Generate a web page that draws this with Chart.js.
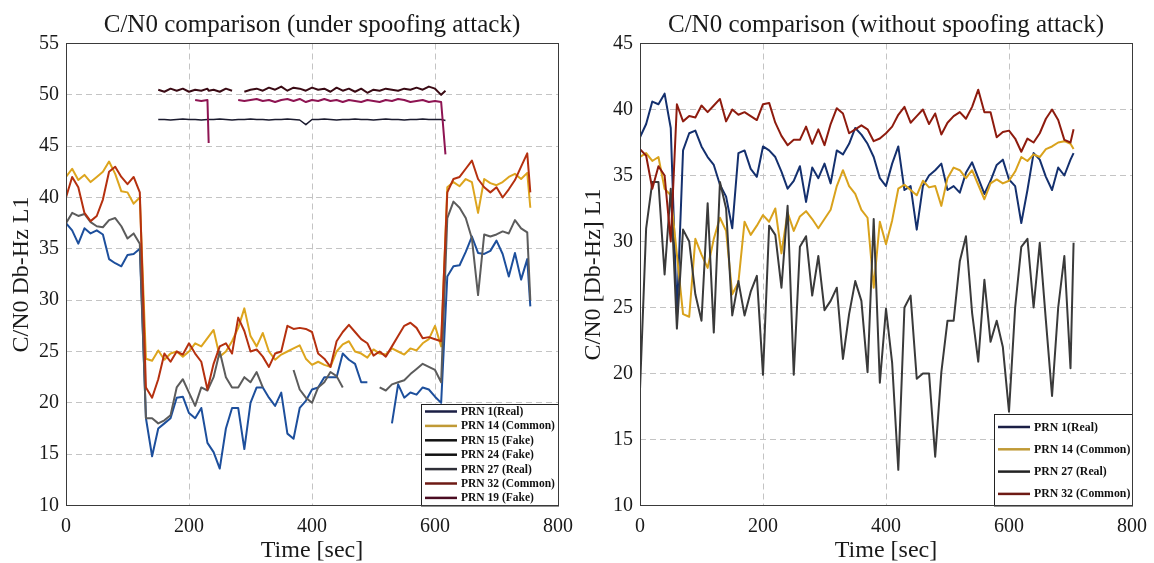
<!DOCTYPE html>
<html>
<head>
<meta charset="utf-8">
<title>C/N0 comparison</title>
<script src="https://cdn.jsdelivr.net/npm/chart.js@4.4.0/dist/chart.umd.min.js"></script>
<style>
    body { margin: 0; background: #fff; }
    .panel { position: absolute; top: 0; width: 577px; height: 563px; }
</style>
</head>
<body>
<div class="panel" style="left:0"><canvas id="spoofChart" width="577" height="563"></canvas></div>
<div class="panel" style="left:577px"><canvas id="cleanChart" width="577" height="563"></canvas></div>
<script>
// ---- under spoofing attack (left) ----
const spoofTime = [0, 10, 20, 30, 40, 50, 60, 70, 80, 90, 100, 110, 120, 130, 140, 150, 160, 170, 180, 190,
    200, 210, 220, 230, 240, 250, 260, 270, 280, 290, 300, 310, 320, 330, 340, 350, 360, 370, 380, 390,
    400, 410, 420, 430, 440, 450, 460, 470, 480, 490, 500, 510, 520, 530, 540, 550, 560, 570, 580, 590,
    600, 610, 620, 630, 640, 650, 660, 670, 680, 690, 700, 710, 720, 730, 740, 750, 755];

const prn1Spoof = [37.5, 36.8, 35.5, 37, 36.5, 36.8, 36.4, 34, 33.6, 33.3, 34.4, 34.5, 35, 18.5, 14.8, 17.5, 18, 18.5, 20.5, 20.6,
    19, 18.5, 19.5, 16.1, 15.2, 13.6, 17.5, 19.5, 19.5, 15.5, 20, 21.5, 21.5, 20.5, 19.7, 21, 17, 16.5, 19.5, 20.2,
    21.3, 21.5, 22.5, 22.5, 22.5, 24.8, 24.2, 23.8, 22, 22, null, null, null, 18, 21.8, 20.5, 21, 20.8, 21.5, 21.3,
    20.6, 20, 32.3, 33.3, 33.4, 34.7, 36.2, 34.6, 34.5, 34.8, 35.8, 34.5, 32.3, 34.6, 32, 34, 29.4];

const prn14Spoof = [42, 42.8, 41.7, 42.2, 41.5, 42, 42.5, 43.5, 42.3, 40.6, 40.5, 39.4, 40, 24.3, 24.1, 25.1, 24.2, 24.8, 25, 24.5,
    25, 25.8, 25.5, 26.3, 27.1, 24.5, 25, 26, 27.3, 29.2, 26.5, 25.5, 26.8, 25, 24.2, 24.7, 25, 25.3, 25.6, 24.3,
    23.7, 24, 23.7, 23.5, 25, 25.7, 26, 25, 24.8, 24.4, 25.2, 24.8, 24.7, 25.3, 25, 24.7, 25.3, 25.1, 25.8, 26.2,
    27.5, 25.5, 41, 41.5, 41.1, 41.8, 41.5, 38.5, 41.8, 41.4, 41.2, 41.5, 42, 42.3, 41.8, 42.4, 39];

const prn27Spoof = [37.5, 38.5, 38.2, 38.4, 37.6, 37.2, 37.1, 37.8, 38, 37.2, 36, 36.5, 35.5, 18.5, 18.5, 18, 18.3, 18.8, 21.5, 22.3,
    21, 19.7, 21.5, 21.2, 22.5, 25, 22.5, 21.5, 21.5, 22.5, 22, 23, 21.5, null, null, null, null, 23.2, 21.3, 20.5,
    20, 21.5, 22, 23, 22.6, 21.5, null, null, null, null, null, 21.5, 21.2, 21.8, 22, 22.2, 22.8, 23.3, 23.8, 23.5,
    23.2, 22, 38, 39.6, 39, 38, 36, 30.5, 36.4, 36.2, 36.4, 36.7, 36.5, 37.8, 37, 36.6, 30];

const prn32Spoof = [40, 42, 41, 38.5, 37.7, 38.2, 39.8, 42.5, 43, 42, 41.3, 42, 40.5, 21.5, 20.5, 22.3, 24.8, 24, 25, 24.7,
    25.8, 24.8, 24, 21.3, 23.8, 25.5, 25.8, 24.8, 28.3, 27, 25, 25.2, 24.5, 23.5, 24.8, 25, 27.5, 27.2, 27.3, 27.2,
    26.9, 24.8, 24.3, 23.5, 26, 26.9, 27.6, 26.9, 26.2, 25.8, 24.6, 25, 24.5, 25.5, 26.5, 27.5, 27.8, 27.3, 26.3, 26.4,
    26.2, 26, 40.5, 41.8, 42, 42.8, 43.6, 41.8, 41, 40.5, 41, 40, 40.8, 41.7, 43, 44.3, 40.5];

// fake signals only exist while the spoofer is on
const fakeTime = [150, 160, 170, 180, 190, 200, 210, 220, 230, 232, 240, 250, 260, 270, 280, 290, 300, 310, 320, 330,
    340, 350, 360, 370, 380, 390, 400, 410, 420, 430, 440, 450, 460, 470, 480, 490, 500, 510, 520, 530,
    540, 550, 560, 570, 580, 590, 600, 610, 617];

const prn15Fake = [50.5, 50.3, 50.6, 50.4, 50.6, 50.3, 50.5, 50.4, 50.6, 50.4, 50.5, 50.3, 50.6, 50.4, null, 50.3, 50.5, 50.6, 50.4, 50.7,
    50.5, 50.8, 50.4, 50.7, 50.6, 50.4, 50.7, 50.5, 50.6, 50.3, 50.7, 50.4, 50.6, 50.3, 50.6, 50.2, 50.5, 50.4, 50.6, 50.5,
    50.4, 50.6, 50.5, 50.7, 50.5, 50.8, 50.6, 50, 50.4];

const prn24Fake = [47.6, 47.6, 47.55, 47.6, 47.65, 47.6, 47.6, 47.55, 47.6, 47.6, 47.6, 47.65, 47.6, 47.55, 47.6, 47.6, 47.65, 47.6, 47.6, 47.55,
    47.6, 47.6, 47.65, 47.6, 47.55, 47.1, 47.6, 47.6, 47.65, 47.6, 47.55, 47.6, 47.6, 47.65, 47.6, 47.6, 47.55, 47.6, 47.65, 47.6,
    47.6, 47.55, 47.6, 47.6, 47.65, 47.6, 47.6, 47.6, 47.5];

const prn19Fake = [null, null, null, null, null, null, 49.5, 49.4, 49.5, 45.3, null, null, null, null, 49.5, 49.4, 49.5, 49.6, 49.4, 49.5,
    49.3, 49.5, 49.6, 49.4, 49.6, 49.3, 49.5, 49.4, 49.6, 49.4, 49.5, 49.3, 49.5, 49.4, 49.3, 49.5, 49.4, 49.3, 49.5, 49.4,
    49.6, 49.5, 49.3, 49.4, 49.5, 49.3, 49.4, 49.3, 44.2];

// ---- without spoofing attack (right) ----
const cleanTime = [0, 10, 20, 30, 40, 50, 60, 70, 80, 90, 100, 110, 120, 130, 140, 150, 160, 170, 180, 190,
    200, 210, 220, 230, 240, 250, 260, 270, 280, 290, 300, 310, 320, 330, 340, 350, 360, 370, 380, 390,
    400, 410, 420, 430, 440, 450, 460, 470, 480, 490, 500, 510, 520, 530, 540, 550, 560, 570, 580, 590,
    600, 610, 620, 630, 640, 650, 660, 670, 680, 690, 700, 705];

const prn1Clean = [37.9, 38.9, 40.6, 40.4, 41.2, 38.6, 24.5, 36.9, 38.2, 38.4, 37.2, 36.4, 35.8, 34.3, 33.4, 31, 36.7, 36.9, 35.5, 34.9,
    37.2, 36.9, 36.4, 35.3, 34, 34.6, 35.7, 33, 35.6, 34.8, 35.9, 34.4, 36.9, 36.6, 37.4, 38.6, 38.1, 37.4, 36.4, 34.8,
    34.2, 35.9, 37.2, 33.9, 34.2, 30.9, 34.2, 35, 35.4, 35.9, 33.9, 34.2, 33.7, 35.2, 36, 34.8, 33.6, 34.6, 35.8, 36.2,
    34.7, 34.2, 31.4, 33.9, 36.7, 36.2, 34.9, 33.9, 35.6, 35, 36.2, 36.7];

const prn14Clean = [36.4, 36.7, 36.1, 36.4, 34, 33.5, 29, 24.5, 24.3, 30.2, 29, 28, 30.2, 31.8, 30.8, 26, 26.9, 31.5, 30.5, 31.2,
    32, 31.5, 32.5, 29.1, 32.2, 30.8, 31.9, 32.3, 31.7, 31, 31.7, 32.4, 34.2, 35.4, 34.2, 33.6, 32.4, 31.8, 26.5, 31.5,
    29.8, 31.6, 34, 34.3, 33.9, 33.5, 34.6, 34.1, 34.2, 32.7, 34.8, 35.6, 35.4, 34.8, 35.4, 34.3, 33.2, 34.4, 34.7, 34.4,
    34.6, 35.3, 36.4, 36.1, 36.6, 36.4, 37, 37.2, 37.5, 37.6, 37.4, 37];

const prn27Clean = [18.8, 31, 34.5, 34.5, 27.5, 34, 23.4, 30.9, 30, 26, 24, 32.9, 23.1, 34.5, 32.5, 24.4, 27, 24.4, 26.2, 27.4,
    19.9, 31.2, 30.5, 26.5, 32.7, 19.9, 29.6, 30.4, 25.9, 28.9, 24.8, 25.5, 26.5, 21.1, 24.5, 27, 25.5, 20.1, 31.7, 19.3,
    24.9, 20.8, 12.7, 25, 25.9, 19.6, 20, 20, 13.7, 20.1, 24, 24, 28.5, 30.4, 24.6, 20.9, 27.1, 22.4, 24, 22,
    17.1, 25, 29.6, 30.2, 25, 29.9, 24, 18.3, 25, 28.9, 20.4, 29.9];

const prn32Clean = [37, 36.5, 34, 35.7, 35, 30, 40.4, 39.1, 39.5, 39.4, 40.3, 39.8, 40.3, 40.8, 39.1, 40, 39.6, 39.8, 39.5, 39.2,
    40.4, 40.5, 39, 38, 37.3, 37.7, 37.7, 38.7, 37.4, 38.5, 37.3, 38.9, 40.1, 39.7, 38.2, 38.5, 38.8, 38.5, 37.6, 37.8,
    38.2, 38.7, 39.6, 40.2, 39, 39.5, 40, 38.9, 39.7, 38.1, 39, 39.5, 39.8, 39.3, 40.2, 41.5, 39.8, 39.8, 37.9, 38.3,
    38.4, 37.8, 36.8, 37.8, 37.5, 38.2, 39.3, 40, 39.2, 37.7, 37.5, 38.5];

const serif = '"Liberation Serif", "Times New Roman", serif';
const textColor = '#1a1a1a';

function toPoints(times, values) {
    return times.map((t, i) => ({ x: t, y: values[i] }));
}

function makeSeries(label, times, values, color, legendColor, width = 2) {
    return {
        label,
        data: toPoints(times, values),
        borderColor: color,
        legendColor,
        borderWidth: width,
        pointRadius: 0,
        tension: 0,
        fill: false,
        spanGaps: false,
        borderJoinStyle: 'round'
    };
}

// matlab draws later lines on top, chart.js draws lower order on top
function stackLikeMatlab(datasets) {
    datasets.forEach((ds, i) => { ds.order = datasets.length - 1 - i; });
    return datasets;
}

const frameBox = {
    id: 'frameBox',
    afterDraw(chart) {
        const { ctx, chartArea } = chart;
        ctx.save();
        ctx.strokeStyle = '#3a3a3a';
        ctx.lineWidth = 1;
        ctx.strokeRect(Math.round(chartArea.left) + 0.5, Math.round(chartArea.top) - 0.5,
            Math.round(chartArea.right - chartArea.left), Math.round(chartArea.bottom - chartArea.top));
        ctx.restore();
    }
};

const legendBox = {
    id: 'legendBox',
    afterDatasetsDraw(chart, args, opts) {
        const { ctx, chartArea } = chart;
        const left = chartArea.right - opts.width;
        const top = chartArea.bottom - opts.height;

        ctx.save();
        ctx.fillStyle = '#fff';
        ctx.fillRect(left, top, opts.width, opts.height);
        ctx.strokeStyle = '#222';
        ctx.lineWidth = 1;
        ctx.strokeRect(Math.round(left) + 0.5, Math.round(top) + 0.5, opts.width, opts.height);

        ctx.font = `bold ${opts.fontSize}px ${serif}`;
        ctx.textBaseline = 'middle';
        chart.data.datasets.forEach((ds, i) => {
            const y = top + opts.firstRow + i * opts.rowGap;
            ctx.strokeStyle = ds.legendColor;
            ctx.lineWidth = 2.5;
            ctx.beginPath();
            ctx.moveTo(left + 4, y);
            ctx.lineTo(left + 36, y);
            ctx.stroke();
            ctx.fillStyle = '#111';
            ctx.fillText(ds.label, left + 40, y + 0.5);
        });
        ctx.restore();
    }
};

function buildOptions({ title, yTitle, yMax, yWidth, rightPad, yTitlePad, legend }) {
    return {
        responsive: false,
        animation: false,
        layout: { padding: { left: 0, right: rightPad, top: 0, bottom: 0 } },
        plugins: {
            legend: { display: false },
            tooltip: { enabled: false },
            title: {
                display: true,
                fullSize: false,
                text: title,
                color: textColor,
                font: { family: serif, size: 25, weight: 'normal' },
                padding: { top: 10, bottom: 3.5 }
            },
            legendBox: legend
        },
        scales: {
            x: {
                type: 'linear',
                min: 0,
                max: 800,
                afterFit: scale => {
                    scale.height = 57.5;
                    // the right margin comes from layout padding, not from the last label
                    scale.paddingLeft = 0;
                    scale.paddingRight = 0;
                },
                ticks: { stepSize: 200, color: textColor, font: { family: serif, size: 20 }, padding: 9, maxRotation: 0 },
                grid: { color: '#c4c4c4', lineWidth: 1, drawTicks: false },
                border: { display: false, dash: [6, 4] },
                title: { display: true, text: 'Time [sec]', color: textColor, font: { family: serif, size: 24 }, padding: { top: 0, bottom: -2 } }
            },
            y: {
                min: 10,
                max: yMax,
                afterFit: scale => { scale.width = yWidth; },
                ticks: { stepSize: 5, color: textColor, font: { family: serif, size: 20 }, padding: 7 },
                grid: { color: '#c4c4c4', lineWidth: 1, drawTicks: false },
                border: { display: false, dash: [6, 4] },
                title: { display: true, text: yTitle, color: textColor, font: { family: serif, size: 24 }, padding: { top: yTitlePad, bottom: 0 } }
            }
        }
    };
}

new Chart(document.getElementById('spoofChart').getContext('2d'), {
    type: 'line',
    data: {
        datasets: stackLikeMatlab([
            makeSeries('PRN 1(Real)', spoofTime, prn1Spoof, '#1d4f9c', '#1b1f45'),
            makeSeries('PRN 14 (Common)', spoofTime, prn14Spoof, '#dda51e', '#c09a36'),
            makeSeries('PRN 15 (Fake)', fakeTime, prn15Fake, '#3a0a14', '#111111'),
            makeSeries('PRN 24 (Fake)', fakeTime, prn24Fake, '#1a1a2e', '#111111', 1.5),
            makeSeries('PRN 27 (Real)', spoofTime, prn27Spoof, '#5c5c5c', '#2f2f38'),
            makeSeries('PRN 32 (Common)', spoofTime, prn32Spoof, '#b5300f', '#6e1a14'),
            makeSeries('PRN 19 (Fake)', fakeTime, prn19Fake, '#8e1452', '#4a0c22')
        ])
    },
    options: buildOptions({
        title: 'C/N0 comparison (under spoofing attack)',
        yTitle: 'C/N0 Db-Hz L1',
        yMax: 55,
        yWidth: 66,
        rightPad: 19,
        yTitlePad: 7,
        legend: { width: 137, height: 101.5, firstRow: 7.5, rowGap: 14.4, fontSize: 11.5 }
    }),
    plugins: [frameBox, legendBox]
});

new Chart(document.getElementById('cleanChart').getContext('2d'), {
    type: 'line',
    data: {
        datasets: stackLikeMatlab([
            makeSeries('PRN 1(Real)', cleanTime, prn1Clean, '#14306e', '#1b1f45'),
            makeSeries('PRN 14 (Common)', cleanTime, prn14Clean, '#d9a21c', '#c09a36'),
            makeSeries('PRN 27 (Real)', cleanTime, prn27Clean, '#3a3a3a', '#222222'),
            makeSeries('PRN 32 (Common)', cleanTime, prn32Clean, '#8e1b0e', '#6e1a14')
        ])
    },
    options: buildOptions({
        title: 'C/N0 comparison (without spoofing attack)',
        yTitle: 'C/N0 [Db-Hz] L1',
        yMax: 45,
        yWidth: 63,
        rightPad: 22,
        yTitlePad: 2,
        legend: { width: 138, height: 91.5, firstRow: 13, rowGap: 22.3, fontSize: 11.8 }
    }),
    plugins: [frameBox, legendBox]
});
</script>
</body>
</html>
